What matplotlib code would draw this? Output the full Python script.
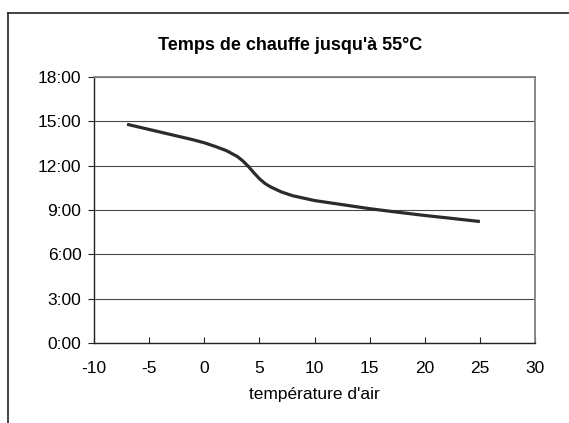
#!/usr/bin/env python3
import matplotlib
matplotlib.use("Agg")
import matplotlib.pyplot as plt
from matplotlib.ticker import FuncFormatter, MultipleLocator
from matplotlib.lines import Line2D

plt.rcParams['font.family'] = ['Liberation Sans', 'DejaVu Sans']
plt.rcParams['axes.unicode_minus'] = False

# air temperature (°C) and heating time (hours) to reach 55 °C
air_temp = [-7, -5, -3, -1, 0, 1, 2, 3, 3.5, 4, 4.5, 5, 5.5, 6, 7, 8, 10,
            12, 14, 15, 17, 20, 22, 25]
heat_hours = [14.8, 14.45, 14.1, 13.75, 13.55, 13.3, 13.02, 12.62, 12.32,
              11.95, 11.52, 11.12, 10.8, 10.57, 10.22, 9.97, 9.64,
              9.42, 9.2, 9.09, 8.9, 8.63, 8.47, 8.22]

title = "Temps de chauffe jusqu'à 55°C"
xlabel = "température d'air"


def hmm(v, pos):
    h = int(round(v))
    return f"{h}:00"


fig = plt.figure(figsize=(5.69, 4.23), dpi=100)
ax = fig.add_axes([94 / 569, 1 - 343 / 423, 441 / 569, 266 / 423])

ax.plot(air_temp, heat_hours, color='#2b2b2b', linewidth=2.3,
        solid_capstyle='butt', solid_joinstyle='round', zorder=5)

ax.set_xlim(-10, 30)
ax.set_ylim(0, 18)
ax.xaxis.set_major_locator(MultipleLocator(5))
ax.yaxis.set_major_locator(MultipleLocator(3))
ax.yaxis.set_major_formatter(FuncFormatter(hmm))

ax.grid(axis='y', color='#4a4a4a', linewidth=0.8)
ax.set_axisbelow(True)

for side in ('top', 'right'):
    ax.spines[side].set_color('#808080')
    ax.spines[side].set_linewidth(1.3)
for side in ('left', 'bottom'):
    ax.spines[side].set_color('#222222')
    ax.spines[side].set_linewidth(1.0)

ax.tick_params(axis='y', direction='out', length=4, width=0.8,
               color='#222222', labelsize=12.5, pad=5)
ax.tick_params(axis='x', direction='in', length=4, width=0.8,
               color='#222222', labelsize=12.5, pad=13)

ax.set_xlabel(xlabel, fontsize=12.5, labelpad=8)
fig.text(290 / 569, 1 - 45 / 423, title, ha='center', va='center',
         fontsize=13, fontweight='bold')

# chart area border (top and left edges)
fig.add_artist(Line2D([8 / 569, 8 / 569], [0, 1 - 13 / 423],
                      transform=fig.transFigure, color='#222222', linewidth=1.2))
fig.add_artist(Line2D([8 / 569, 1], [1 - 13 / 423, 1 - 13 / 423],
                      transform=fig.transFigure, color='#222222', linewidth=1.2))

fig.savefig("out.png", dpi=100)
